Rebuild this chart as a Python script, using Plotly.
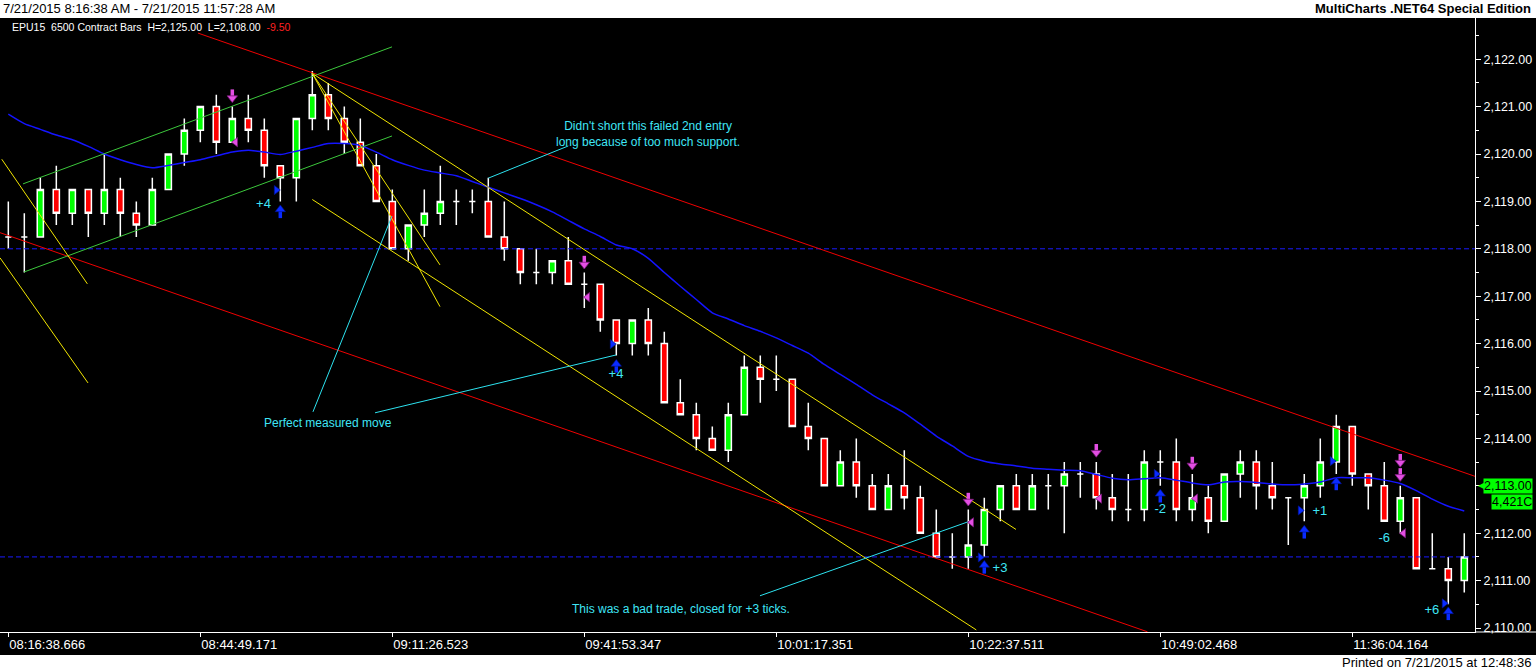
import plotly.graph_objects as go

# ---------------- data ----------------
tick_bars = [0, 12, 24, 36, 48, 60, 72, 84]
tick_labels = ["08:16:38.666", "08:44:49.171", "09:11:26.523", "09:41:53.347",
               "10:01:17.351", "10:22:37.511", "10:49:02.468", "11:36:04.164"]

bar_open = [2118.25, 2118.25, 2118.25, 2119.25, 2118.75, 2119.25, 2118.75, 2119.25, 2118.75, 2118.5,
            2119.25, 2120.0, 2120.5, 2121.0, 2120.25, 2120.75, 2120.5, 2119.75, 2119.5, 2120.75,
            2121.25, 2120.75, 2120.25, 2119.75, 2119.0, 2118.0, 2118.5, 2118.75, 2119.0, 2119.0,
            2119.0, 2118.25, 2118.0, 2117.5, 2117.5, 2117.75, 2117.25, 2117.25, 2116.5, 2116.0,
            2116.5, 2116.0, 2114.75, 2114.5, 2114.0, 2113.75, 2114.5, 2115.5, 2115.25, 2115.25,
            2114.25, 2114.0, 2113.0, 2113.5, 2113.0, 2112.5, 2113.0, 2112.75, 2112.0, 2111.5,
            2111.5, 2111.75, 2112.5, 2113.0, 2112.5, 2113.0, 2113.0, 2113.25, 2113.25, 2112.75,
            2112.5, 2112.5, 2113.5, 2113.5, 2112.5, 2112.75, 2112.25, 2113.25, 2113.5, 2113.0,
            2112.75, 2112.75, 2113.0, 2113.5, 2114.25, 2113.25, 2113.0, 2112.25, 2112.75, 2111.25,
            2111.25, 2111.0]
bar_high = [2119.0, 2118.75, 2119.5, 2119.75, 2119.25, 2119.25, 2120.0, 2119.5, 2119.0, 2119.5,
            2120.0, 2120.75, 2121.0, 2121.25, 2121.0, 2121.25, 2120.75, 2119.75, 2120.75, 2121.75,
            2121.5, 2121.0, 2120.75, 2120.0, 2119.25, 2118.5, 2119.25, 2119.75, 2119.25, 2119.25,
            2119.5, 2119.0, 2118.0, 2118.0, 2117.75, 2118.25, 2117.5, 2117.25, 2116.5, 2116.5,
            2116.75, 2116.25, 2115.25, 2114.75, 2114.25, 2114.75, 2115.75, 2115.75, 2115.75, 2115.25,
            2114.75, 2114.0, 2113.75, 2114.0, 2113.25, 2113.25, 2113.75, 2113.0, 2112.5, 2112.0,
            2112.5, 2112.75, 2113.0, 2113.25, 2113.25, 2113.25, 2113.5, 2113.5, 2113.5, 2113.25,
            2113.25, 2113.75, 2113.75, 2114.0, 2113.25, 2113.0, 2113.25, 2113.75, 2113.75, 2113.5,
            2112.75, 2113.25, 2114.0, 2114.5, 2114.25, 2113.25, 2113.5, 2113.0, 2112.75, 2112.0,
            2111.5, 2112.0]
bar_low = [2118.0, 2117.5, 2118.25, 2118.5, 2118.5, 2118.25, 2118.5, 2118.25, 2118.25, 2118.5,
           2119.25, 2119.75, 2120.25, 2120.0, 2120.25, 2120.25, 2119.5, 2119.0, 2119.0, 2120.5,
           2120.5, 2120.0, 2119.75, 2119.0, 2118.0, 2117.75, 2118.25, 2118.5, 2118.5, 2118.75,
           2118.25, 2117.75, 2117.25, 2117.25, 2117.25, 2117.25, 2116.75, 2116.25, 2115.75, 2115.75,
           2115.75, 2114.75, 2114.5, 2113.75, 2113.75, 2113.5, 2114.5, 2114.75, 2115.0, 2114.25,
           2113.75, 2113.0, 2113.0, 2112.75, 2112.5, 2112.5, 2112.5, 2112.0, 2111.5, 2111.25,
           2111.25, 2111.5, 2112.25, 2112.5, 2112.5, 2112.5, 2112.0, 2112.75, 2112.5, 2112.25,
           2112.25, 2112.25, 2113.0, 2112.25, 2112.25, 2112.0, 2112.25, 2112.75, 2112.5, 2112.5,
           2111.75, 2112.25, 2112.75, 2113.25, 2113.0, 2112.5, 2112.25, 2112.0, 2111.25, 2111.25,
           2110.5, 2110.75]
bar_close = [2118.25, 2118.25, 2119.25, 2118.75, 2119.25, 2118.75, 2119.25, 2118.75, 2118.5, 2119.25,
             2120.0, 2120.5, 2121.0, 2120.25, 2120.75, 2120.5, 2119.75, 2119.5, 2120.75, 2121.25,
             2120.75, 2120.25, 2119.75, 2119.0, 2118.0, 2118.5, 2118.75, 2119.0, 2119.0, 2119.0,
             2118.25, 2118.0, 2117.5, 2117.5, 2117.75, 2117.25, 2117.25, 2116.5, 2116.0, 2116.5,
             2116.0, 2114.75, 2114.5, 2114.0, 2113.75, 2114.5, 2115.5, 2115.25, 2115.25, 2114.25,
             2114.0, 2113.0, 2113.5, 2113.0, 2112.5, 2113.0, 2112.75, 2112.0, 2111.5, 2111.5,
             2111.75, 2112.5, 2113.0, 2112.5, 2113.0, 2113.0, 2113.25, 2113.25, 2112.75, 2112.5,
             2112.5, 2113.5, 2113.5, 2112.5, 2112.75, 2112.25, 2113.25, 2113.5, 2113.0, 2112.75,
             2112.75, 2113.0, 2113.5, 2114.25, 2113.25, 2113.0, 2112.25, 2112.75, 2111.25, 2111.25,
             2111.0, 2111.5]

ma_values = [2120.84, 2120.64, 2120.52, 2120.40, 2120.30, 2120.16, 2120.00, 2119.88, 2119.78, 2119.71,
             2119.76, 2119.82, 2119.88, 2119.96, 2120.04, 2120.08, 2120.04, 2119.99, 2120.06, 2120.14,
             2120.22, 2120.22, 2120.18, 2120.04, 2119.88, 2119.76, 2119.66, 2119.60, 2119.54, 2119.42,
             2119.30, 2119.18, 2119.06, 2118.93, 2118.78, 2118.60, 2118.42, 2118.26, 2118.08, 2118.00,
             2117.80, 2117.50, 2117.21, 2116.93, 2116.65, 2116.52, 2116.38, 2116.26, 2116.12, 2115.96,
             2115.80, 2115.56, 2115.35, 2115.14, 2114.92, 2114.73, 2114.54, 2114.30, 2114.05, 2113.84,
             2113.62, 2113.52, 2113.46, 2113.42, 2113.37, 2113.35, 2113.33, 2113.32, 2113.24, 2113.16,
             2113.13, 2113.15, 2113.17, 2113.12, 2113.06, 2113.02, 2113.08, 2113.09, 2113.07, 2113.04,
             2113.02, 2113.04, 2113.08, 2113.17, 2113.17, 2113.17, 2113.12, 2113.05, 2112.90, 2112.72,
             2112.57, 2112.47]

# trend lines: [bar0, price0, bar1, price1]
red_lines = [[11.86, 2122.55, 91.67, 2113.20], [-0.52, 2118.34, 71.2, 2109.92]]
green_lines = [[0.92, 2119.37, 23.98, 2122.26], [0.98, 2117.51, 23.98, 2120.38]]
yellow_lines = [[-0.41, 2119.89, 4.94, 2117.26], [-0.52, 2117.81, 4.98, 2115.17],
                [19.0, 2121.70, 26.98, 2116.78], [19.0, 2121.70, 26.98, 2117.66],
                [19.0, 2121.70, 62.98, 2112.08], [19.0, 2119.04, 60.5, 2109.96]]
cyan_lines = [[30.0, 2119.49, 35.0, 2120.17], [19.04, 2114.56, 23.98, 2118.69],
              [22.92, 2114.54, 37.98, 2115.76], [46.98, 2110.68, 59.98, 2112.24]]
dashed_levels = [2118.0, 2111.5]

short_bars = [14, 36, 60, 68, 74, 87, 87]
short_prices = [2121.20, 2117.69, 2112.69, 2113.72, 2113.45, 2113.51, 2113.21]
short_exit_bars = [14.2, 36.2, 60.2, 68.2, 74.2, 87.2]
short_exit_prices = [2120.25, 2116.98, 2112.23, 2112.73, 2112.73, 2112.0]
long_bars = [17, 38, 61, 72, 81, 83, 90]
long_prices = [2118.81, 2115.55, 2111.31, 2112.81, 2112.05, 2113.07, 2110.33]
long_mark_bars = [16.75, 37.75, 60.75, 71.75, 80.75, 82.75, 89.75]
long_mark_prices = [2119.24, 2115.99, 2111.49, 2113.25, 2112.48, 2113.52, 2110.52]
pl_bars = [15.95, 37.98, 61.98, 72.0, 81.98, 86.0, 88.98]
pl_prices = [2118.92, 2115.34, 2111.24, 2112.49, 2112.45, 2111.89, 2110.37]
pl_texts = ["+4", "+4", "+3", "-2", "+1", "-6", "+6"]

note_texts = ["Didn't short this failed 2nd entry<br>long because of too much support.",
              "Perfect measured move",
              "This was a bad trade, closed for +3 ticks."]
note_bars = [40.0, 20.0, 42.04]
note_prices = [2120.42, 2114.32, 2110.40]

last_tag_price = 2113.00
volume_tag = "4,421C"

# ---------------- layout geometry ----------------
W, H = 1536, 670
ML, MR, MT, MB = 0, 61, 18, 38
PW = W - ML - MR
PH = H - MT - MB
x_range = [-0.52, 91.67]
y_range = [2109.916, 2122.869]
PPX = (y_range[1] - y_range[0]) / PH  # price per pixel


def pxx(p):
    return (p - ML) / PW


def pxy(p):
    return (H - MB - p) / PH


def seg_xy(lines):
    xs, ys = [], []
    for x0, y0, x1, y1 in lines:
        xs += [x0, x1, None]
        ys += [y0, y1, None]
    return xs, ys


fig = go.Figure()
bars_x = list(range(len(bar_open)))

fig.add_trace(go.Candlestick(
    x=bars_x, open=bar_open, high=bar_high, low=bar_low, close=bar_close,
    increasing=dict(fillcolor="#00FF00", line=dict(color="white", width=1.5)),
    decreasing=dict(fillcolor="#FF0000", line=dict(color="white", width=1.5)),
    whiskerwidth=0, hoverinfo="skip"))

# dashed levels
for lv in dashed_levels:
    fig.add_trace(go.Scatter(x=x_range, y=[lv, lv], mode="lines",
                             line=dict(color="#1a1aff", width=1, dash="5px,3px"), hoverinfo="skip"))

# moving average
fig.add_trace(go.Scatter(x=bars_x, y=ma_values, mode="lines",
                         line=dict(color="#1414FF", width=1.5, shape="spline", smoothing=0.6),
                         hoverinfo="skip"))

for lines, col in [(red_lines, "#F00000"), (green_lines, "#3CC83C"),
                   (yellow_lines, "#F2E600"), (cyan_lines, "#2DE3F0")]:
    xs, ys = seg_xy(lines)
    fig.add_trace(go.Scatter(x=xs, y=ys, mode="lines", line=dict(color=col, width=1),
                             hoverinfo="skip"))

# short signals: magenta down arrows
mag = "#E34FE3"
mag_edge = "#7A1A7A"
fig.add_trace(go.Scatter(x=short_bars, y=[p + 3.5 * PPX for p in short_prices], mode="markers",
                         marker=dict(symbol="line-ns", size=6, line=dict(color=mag, width=3.5)),
                         hoverinfo="skip"))
fig.add_trace(go.Scatter(x=short_bars, y=[p - 1.0 * PPX for p in short_prices], mode="markers",
                         marker=dict(symbol="triangle-down", size=9, color=mag,
                                     line=dict(color=mag_edge, width=0.8)), hoverinfo="skip"))
fig.add_trace(go.Scatter(x=short_exit_bars, y=short_exit_prices, mode="markers",
                         marker=dict(symbol="triangle-left", size=8, color=mag,
                                     line=dict(color=mag_edge, width=0.8)), hoverinfo="skip"))

# long signals: blue up arrows
blue = "#0A2BFF"
fig.add_trace(go.Scatter(x=long_bars, y=[p - 3.5 * PPX for p in long_prices], mode="markers",
                         marker=dict(symbol="line-ns", size=6, line=dict(color=blue, width=3.5)),
                         hoverinfo="skip"))
fig.add_trace(go.Scatter(x=long_bars, y=[p + 1.0 * PPX for p in long_prices], mode="markers",
                         marker=dict(symbol="triangle-up", size=9, color=blue,
                                     line=dict(color="#00108A", width=0.6)), hoverinfo="skip"))
fig.add_trace(go.Scatter(x=long_mark_bars, y=long_mark_prices, mode="markers",
                         marker=dict(symbol="triangle-right", size=8, color=blue,
                                     line=dict(color="#00108A", width=0.6)), hoverinfo="skip"))

cyan_txt = "#3FE6F6"
fig.add_trace(go.Scatter(x=pl_bars, y=pl_prices, mode="text", text=pl_texts,
                         textfont=dict(color=cyan_txt, size=13, family="Liberation Sans, Arial"),
                         hoverinfo="skip"))

annotations = []
for t, xb, yp in zip(note_texts, note_bars, note_prices):
    annotations.append(dict(x=xb, y=yp, xref="x", yref="y", text=t, showarrow=False,
                            font=dict(color=cyan_txt, size=12, family="Liberation Sans, Arial")))

annotations += [
    dict(x=pxx(1), y=pxy(9), xref="paper", yref="paper", xanchor="left", yanchor="middle",
         text="7/21/2015 8:16:38 AM - 7/21/2015 11:57:28 AM", showarrow=False,
         font=dict(color="black", size=13, family="Liberation Sans, Arial")),
    dict(x=pxx(1533), y=pxy(9), xref="paper", yref="paper", xanchor="right", yanchor="middle",
         text="<b>MultiCharts .NET64 Special Edition</b>", showarrow=False,
         font=dict(color="black", size=13, family="Liberation Sans, Arial")),
    dict(x=pxx(10), y=pxy(27), xref="paper", yref="paper", xanchor="left", yanchor="middle",
         text="EPU15  6500 Contract Bars  H=2,125.00  L=2,108.00  <span style='color:#FF2020'>-9.50</span>",
         showarrow=False, font=dict(color="white", size=10.5, family="Liberation Sans, Arial")),
    dict(x=pxx(1533), y=pxy(662), xref="paper", yref="paper", xanchor="right", yanchor="middle",
         text="Printed on 7/21/2015 at 12:48:36", showarrow=False,
         font=dict(color="black", size=13, family="Liberation Sans Narrow, Liberation Sans, Arial")),
    dict(x=pxx(1476), y=last_tag_price, xref="paper", yref="y", xanchor="left", yanchor="middle",
         text="◀", showarrow=False,
         font=dict(color="#00FF00", size=8, family="DejaVu Sans")),
    dict(x=pxx(1533), y=last_tag_price, xref="paper", yref="y", xanchor="right", yanchor="middle",
         text=f"{last_tag_price:,.2f}", showarrow=False, bgcolor="#00FF00", borderpad=0,
         font=dict(color="black", size=12.5, family="Liberation Sans, Arial")),
    dict(x=pxx(1533), y=last_tag_price, xref="paper", yref="y", xanchor="right", yanchor="middle",
         yshift=-16, text=volume_tag, showarrow=False, bgcolor="#00FF00", borderpad=0,
         font=dict(color="black", size=12.5, family="Liberation Sans, Arial")),
]

shapes = [
    dict(type="rect", xref="paper", yref="paper", x0=-0.01, x1=1.06, y0=1, y1=pxy(-2),
         fillcolor="white", line=dict(width=0), layer="above"),
    dict(type="rect", xref="paper", yref="paper", x0=-0.01, x1=1.06, y0=pxy(672), y1=pxy(655),
         fillcolor="white", line=dict(width=0), layer="above"),
    dict(type="line", xref="paper", yref="paper", x0=1, x1=pxx(W), y0=0, y1=0,
         line=dict(color="white", width=1)),
]

fig.update_layout(
    width=W, height=H, margin=dict(l=ML, r=MR, t=MT, b=MB),
    paper_bgcolor="black", plot_bgcolor="black", showlegend=False,
    boxgap=0.45, annotations=annotations, shapes=shapes,
    xaxis=dict(range=x_range, rangeslider=dict(visible=False), showgrid=False, zeroline=False,
               tickmode="array", tickvals=tick_bars, ticktext=tick_labels,
               ticks="outside", ticklen=4, tickcolor="white", ticklabelposition="outside right",
               showline=True, linecolor="white", linewidth=1,
               tickfont=dict(color="white", size=13, family="Liberation Sans Narrow, Liberation Sans, Arial")),
    yaxis=dict(range=y_range, side="right", showgrid=False, zeroline=False,
               dtick=1, tick0=2110, tickformat=",.2f", ticks="outside", ticklen=5,
               tickcolor="white", showline=True, linecolor="white", linewidth=1,
               minor=dict(dtick=0.5, tick0=2110, ticks="outside", ticklen=3, tickcolor="white"),
               tickfont=dict(color="white", size=12.5, family="Liberation Sans, Arial")),
)

fig.write_html("out.html", config={"displayModeBar": False},
               post_script="document.body.style.margin='0';document.body.style.padding='0';"
                           "document.body.style.overflow='hidden';")
